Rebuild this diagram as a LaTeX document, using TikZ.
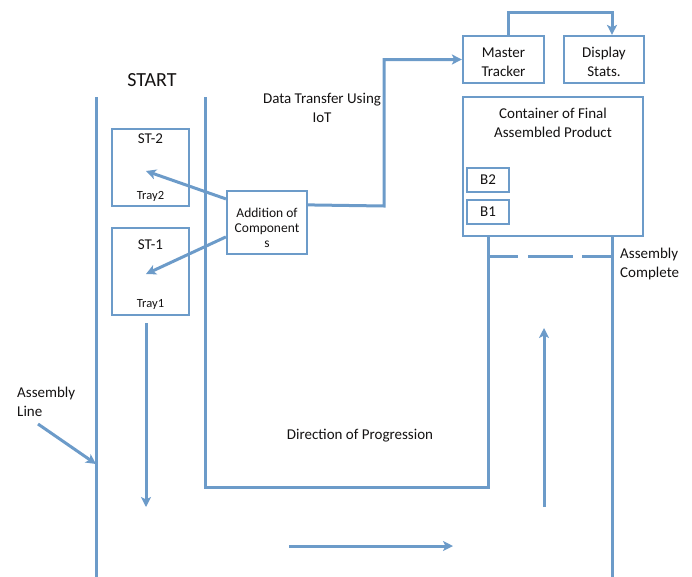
\documentclass[tikz,border=0pt]{standalone}
\usepackage{fontspec}
\setmainfont{Carlito}
\usetikzlibrary{arrows.meta,calc}
\definecolor{ln}{HTML}{6C9BC9}
\definecolor{tx}{HTML}{141212}
\tikzset{
  boxn/.style={draw=ln,line width=2.2pt,rectangle,inner sep=0pt,fill=white},
  wire/.style={draw=ln,line width=3pt},
  arr/.style={wire,-{Stealth[length=10pt,width=10pt,inset=2.5pt]}},
  txt/.style={text=tx,font=\fontsize{15}{19}\selectfont,align=center,inner sep=0pt},
}
\begin{document}
\begin{tikzpicture}[x=1pt,y=-1pt]
\useasboundingbox (0,0) rectangle (692,576);
% boxes
\node[boxn,minimum width=77pt,minimum height=77pt] (st2) at (150.5,167.5) {};
\node[boxn,minimum width=77pt,minimum height=87pt] (st1) at (150.5,271.5) {};
\node[boxn,minimum width=80pt,minimum height=63pt] (add) at (267,222.5) {};
\node[boxn,minimum width=81pt,minimum height=47pt] (master) at (503.5,59.5) {};
\node[boxn,minimum width=80pt,minimum height=47pt] (disp) at (604,59.5) {};
\node[boxn,minimum width=180pt,minimum height=139pt] (cont) at (553,166.5) {};
\node[boxn,line width=2pt,minimum width=42pt,minimum height=24pt] (b2) at (488,180) {};
\node[boxn,line width=2pt,minimum width=42pt,minimum height=24pt] (b1) at (488,212) {};
% texts
\node[txt,font=\fontsize{20}{22}\selectfont] (start) at (152,80) {START};
\node[txt] (st2t) at (150.5,139) {ST-2};
\node[txt,font=\fontsize{12.5}{14}\selectfont] (tray2) at (150.5,196) {Tray2};
\node[txt] (st1t) at (150.5,245) {ST-1};
\node[txt,font=\fontsize{12.5}{14}\selectfont] (tray1) at (150.5,304) {Tray1};
\node[txt,font=\fontsize{13.5}{15}\selectfont] (addt) at (267,228) {Addition of\\Component\\s};
\node[txt] (dtt) at (322,107.5) {Data Transfer Using\\IoT};
\node[txt] (mt) at (503.5,62) {Master\\Tracker};
\node[txt] (dst) at (604,62) {Display\\Stats.};
\node[txt] (contt) at (553,122.5) {Container of Final\\Assembled Product};
\node[txt] (b2t) at (488,180) {B2};
\node[txt] (b1t) at (488,212) {B1};
\node[txt,align=left,anchor=west] (act) at (620,264) {Assembly\\Complete};
\node[txt,align=left,anchor=west] (alt) at (17,401.5) {Assembly\\Line};
\node[txt] (dpt) at (360,436) {Direction of Progression};
% coordinates
\coordinate (oltop) at (96,97);
\coordinate (olbot) at (96,577);
\coordinate (iltop) at (205,97);
\coordinate (ilbot) at (205,487.5);
\coordinate (irbot) at (488,487.5);
\coordinate (orbot) at (612,577);
\coordinate (p2) at (146,171);
\coordinate (p1) at (146,274);
\coordinate (dtx) at (384,206);
\coordinate (mtop) at (508,12);
\coordinate (dtop) at (612,12);
\coordinate (dn1) at (146,323);
\coordinate (dn2) at (146,507);
\coordinate (up1) at (544,507);
\coordinate (up2) at (544,328);
\coordinate (rt1) at (289,546);
\coordinate (rt2) at (453,546);
\coordinate (al1) at (38,424);
\coordinate (al2) at (96,464);
% assembly line walls
\draw[wire] (oltop) -- (olbot);
\draw[wire] (iltop) -- (ilbot) -- (irbot) -- (irbot |- cont.south);
\draw[wire] (orbot) -- (orbot |- cont.south);
% dashed completion line
\draw[wire] (488,256) -- (518,256);
\draw[wire] (528,256) -- (573,256);
\draw[wire] (582,256) -- (612,256);
% component arrows
\draw[arr] ($(add.north west)+(0,9)$) -- (p2);
\draw[arr] ($(add.north west)+(0,47)$) -- (p1);
% data transfer
\draw[arr] ($(add.north east)+(0,15)$) -- (dtx) |- (master.west);
\draw[arr] (master.north -| mtop) -- (mtop) -- (dtop) -- (dtop |- disp.north);
% progression arrows
\draw[arr] (dn1) -- (dn2);
\draw[arr] (up1) -- (up2);
\draw[arr] (rt1) -- (rt2);
\draw[arr] (al1) -- (al2);
\end{tikzpicture}
\end{document}
